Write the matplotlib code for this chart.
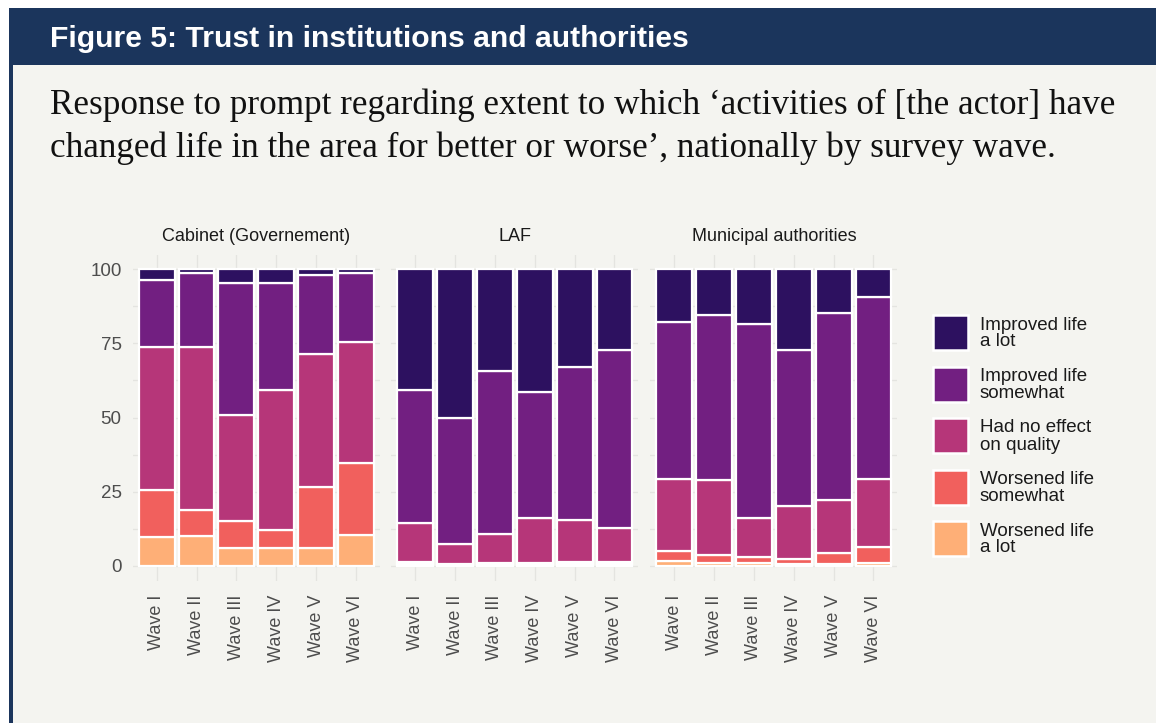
import numpy as np
import matplotlib.pyplot as plt
from matplotlib.patches import Rectangle

plt.rcParams['font.family'] = ['Liberation Sans', 'DejaVu Sans']

# categories
waves = ['Wave I', 'Wave II', 'Wave III', 'Wave IV', 'Wave V', 'Wave VI']
actors = ['Cabinet (Governement)', 'LAF', 'Municipal authorities']

# shares (%) per actor (rows) and wave (columns)
worse_lot = [[9.8, 10.1, 5.8, 5.8, 6.1, 10.3],
             [0.5, 0.3, 0.3, 0.3, 0.4, 0.4],
             [1.7, 0.8, 0.8, 0.6, 0.7, 1.0]]
worse_some = [[15.6, 8.7, 9.3, 6.1, 20.6, 24.2],
              [0.8, 0.3, 0.7, 0.7, 0.7, 0.9],
              [3.2, 2.8, 2.0, 1.8, 3.7, 5.4]]
no_effect = [[48.3, 54.9, 35.7, 47.4, 44.6, 40.9],
             [13.2, 6.8, 9.8, 15.0, 14.3, 11.5],
             [24.3, 25.3, 13.2, 17.6, 17.6, 22.8]]
improved_some = [[22.6, 25.2, 44.7, 36.0, 26.8, 23.5],
                 [44.9, 42.3, 54.8, 42.5, 51.6, 59.9],
                 [53.1, 55.6, 65.7, 52.7, 63.2, 61.4]]
improved_lot = [[3.7, 1.1, 4.5, 4.7, 1.9, 1.1],
                [40.6, 50.3, 34.4, 41.5, 33.0, 27.3],
                [17.7, 15.5, 18.3, 27.3, 14.8, 9.4]]

# stacking order bottom -> top
series = [worse_lot, worse_some, no_effect, improved_some, improved_lot]
labels = ['Worsened life\na lot', 'Worsened life\nsomewhat', 'Had no effect\non quality',
          'Improved life\nsomewhat', 'Improved life\na lot']
colors = ['#FEAF77', '#F1605D', '#B63679', '#721F81', '#2D1160']

bg = '#f4f4f0'
navy = '#1b355c'
grid_c = '#e4e4e0'
W, H = 1156, 723

fig = plt.figure(figsize=(W / 100, H / 100), dpi=100, facecolor='white')

# page decoration: panel background, header bar, left rule
fig.patches.append(Rectangle((10 / W, 0), 1, 1 - 8 / H, transform=fig.transFigure,
                             facecolor=bg, edgecolor='none', zorder=-3))
fig.patches.append(Rectangle((9 / W, 1 - 65 / H), 1, 57 / H, transform=fig.transFigure,
                             facecolor=navy, edgecolor='none', zorder=-2))
fig.patches.append(Rectangle((9 / W, 0), 4 / W, 1 - 8 / H, transform=fig.transFigure,
                             facecolor=navy, edgecolor='none', zorder=-2))

fig.text(50 / W, 1 - 39 / H, 'Figure 5: Trust in institutions and authorities',
         color='white', fontsize=21.7, fontweight='bold', va='center', ha='left')
fig.text(50 / W, 1 - 88 / H,
         'Response to prompt regarding extent to which \u2018activities of [the actor] have\n'
         'changed life in the area for better or worse\u2019, nationally by survey wave.',
         color='#111111', fontsize=25.3, family='Liberation Serif', va='top', ha='left',
         linespacing=1.4)

lefts = [132.8, 391.4, 650.4]
x = np.arange(len(waves))
for k, actor in enumerate(actors):
    ax = fig.add_axes([lefts[k] / W, 1 - 580.5 / H, 247 / W, 326 / H])
    ax.set_facecolor(bg)
    bottom = np.zeros(len(waves))
    for s, col in zip(series, colors):
        vals = np.array(s[k])
        ax.bar(x, vals, bottom=bottom, width=0.9, color=col, edgecolor='white',
               linewidth=1.6, zorder=3)
        bottom += vals
    ax.set_xlim(-0.6, len(waves) - 0.4)
    ax.set_ylim(-5, 105)
    ax.set_yticks([0, 25, 50, 75, 100])
    ax.set_yticks([12.5, 37.5, 62.5, 87.5], minor=True)
    ax.set_xticks(x)
    ax.set_xticklabels(waves, rotation=90, va='top', ha='center')
    ax.grid(True, which='both', color=grid_c, linewidth=0.9, zorder=0)
    ax.tick_params(length=0, which='both', labelsize=13, labelcolor='#4d4d4d', pad=10)
    ax.tick_params(axis='y', pad=8, labelsize=13.5)
    if k > 0:
        ax.tick_params(axis='y', labelleft=False)
    for sp in ax.spines.values():
        sp.set_visible(False)
    ax.set_title(actor, fontsize=13, color='#1a1a1a', pad=10)

# legend: key boxes and two-line labels, top entry = last series
key_x, key_w, key_h, key_top, step = 933, 35, 35, 315, 51.5
for i, (col, lab) in enumerate(zip(colors[::-1], labels[::-1])):
    top = key_top + i * step
    fig.patches.append(Rectangle((key_x / W, 1 - (top + key_h) / H), key_w / W, key_h / H,
                                 transform=fig.transFigure, facecolor=col,
                                 edgecolor='white', linewidth=1.8))
    fig.text(980 / W, 1 - (top + key_h / 2 + 1) / H, lab, fontsize=13.5, color='#1a1a1a',
             va='center', ha='left', linespacing=1.0)

fig.savefig('out.png', dpi=100, facecolor=fig.get_facecolor())
